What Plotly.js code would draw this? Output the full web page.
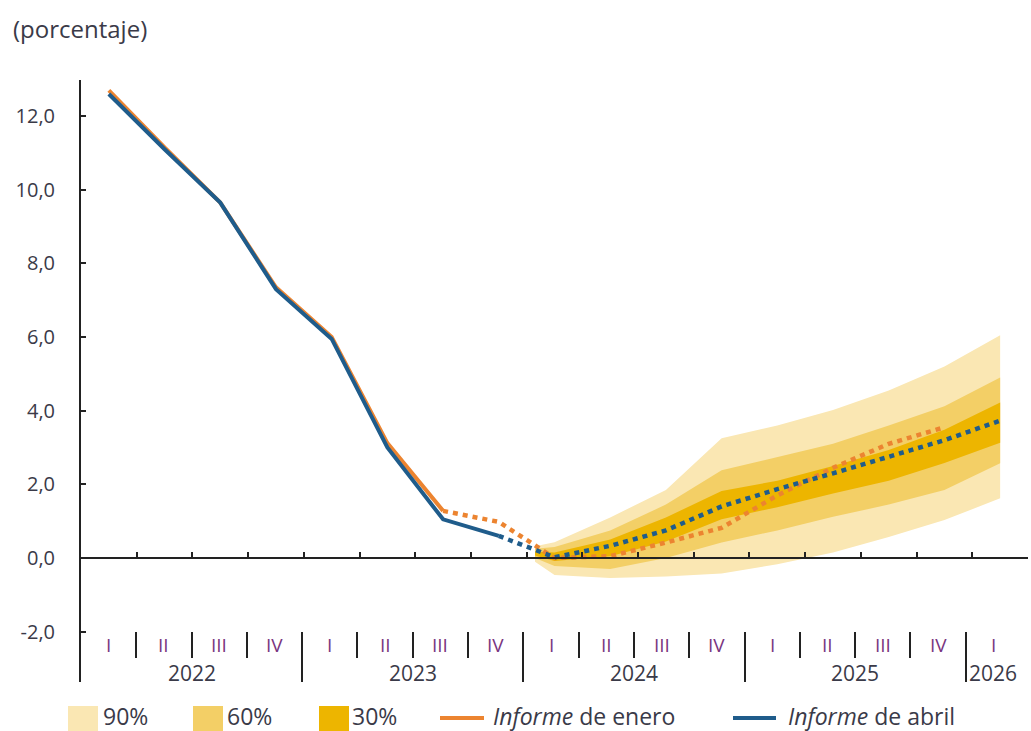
<!DOCTYPE html>
<html><head><meta charset="utf-8">
<script src="https://cdn.plot.ly/plotly-3.0.1.min.js"></script>
<style>html,body{margin:0;padding:0;background:#fff}#chart{width:1031px;height:731px}</style>
</head><body><div id="chart"></div>
<script>
// ---- data (quarterly, quarter index 0 = 2022 Q1) ----
const years = ['2022', '2023', '2024', '2025', '2026'];
const quarterNames = ['I', 'II', 'III', 'IV'];
const nQuarters = 17; // 2022 Q1 .. 2026 Q1

const aprilHistQ = [0, 1, 2, 3, 4, 5, 6, 7];
const aprilHist = [12.6, 11.1, 9.65, 7.3, 5.95, 3.0, 1.05, 0.6];
const aprilProjQ = [7, 8, 9, 10, 11, 12, 13, 14, 15, 16];
const aprilProj = [0.6, 0.02, 0.33, 0.75, 1.4, 1.87, 2.3, 2.75, 3.2, 3.73];

const eneroHistQ = [0, 1, 2, 3, 4, 5, 6];
const eneroHist = [12.7, 11.15, 9.65, 7.35, 6.0, 3.12, 1.28];
const eneroProjQ = [6, 7, 8, 9, 10, 11, 12, 13, 14, 15];
const eneroProj = [1.28, 0.98, 0.0, 0.05, 0.42, 0.82, 1.7, 2.45, 3.1, 3.55];

const fanQ = [7.65, 8, 9, 10, 11, 12, 13, 14, 15, 16];
const lo90 = [-0.1, -0.46, -0.54, -0.5, -0.42, -0.17, 0.15, 0.57, 1.03, 1.62];
const hi90 = [0.32, 0.43, 1.1, 1.85, 3.25, 3.6, 4.02, 4.55, 5.2, 6.05];
const lo60 = [0.0, -0.22, -0.3, 0.0, 0.42, 0.75, 1.12, 1.45, 1.85, 2.57];
const hi60 = [0.25, 0.3, 0.75, 1.45, 2.38, 2.73, 3.1, 3.6, 4.12, 4.9];
const lo30 = [0.07, -0.08, 0.05, 0.45, 1.05, 1.38, 1.75, 2.1, 2.58, 3.13];
const hi30 = [0.18, 0.15, 0.5, 1.1, 1.82, 2.1, 2.5, 2.93, 3.48, 4.22];

const yTickVals = [-2, 0, 2, 4, 6, 8, 10, 12];
const yTickText = ['-2,0', '0,0', '2,0', '4,0', '6,0', '8,0', '10,0', '12,0'];

const legendLabels = ['90%', '60%', '30%', '<i>Informe</i> de enero', '<i>Informe</i> de abril'];

// ---- styles ----
const C90 = '#FAE7B3', C60 = '#F3CF66', C30 = '#EDB500';
const ORANGE = '#EC8430', BLUE = '#1F5C8B';
const AX = '#222222', TXT = '#3a3a48', NUM = '#7a3580';
const FONT = 'Open Sans, sans-serif';

const qx = q => q * 3 + 1.5;          // quarter index -> month position (mid quarter)
const yRange = [-3.367, 12.98];
const PX = {l: 81, r: 1028, t: 80, b: 682};
const fx = px => (px - PX.l) / (PX.r - PX.l);
const fy = py => (PX.b - py) / (PX.b - PX.t);

const fanX = fanQ.map(qx);
function band(lo, hi, color) {
  return [
    {x: fanX, y: lo, mode: 'lines', line: {width: 0, color: color}, hoverinfo: 'skip', showlegend: false},
    {x: fanX, y: hi, mode: 'lines', line: {width: 0, color: color}, fill: 'tonexty', fillcolor: color, hoverinfo: 'skip', showlegend: false}
  ];
}
const dotted = '5px,5px';
const traces = [
  ...band(lo90, hi90, C90),
  ...band(lo60, hi60, C60),
  ...band(lo30, hi30, C30),
  {x: eneroHistQ.map(qx), y: eneroHist, mode: 'lines', line: {color: ORANGE, width: 4}, showlegend: false},
  {x: eneroProjQ.map(qx), y: eneroProj, mode: 'lines', line: {color: ORANGE, width: 4.5, dash: dotted}, showlegend: false},
  {x: aprilHistQ.map(qx), y: aprilHist, mode: 'lines', line: {color: BLUE, width: 4}, showlegend: false},
  {x: aprilProjQ.map(qx), y: aprilProj, mode: 'lines', line: {color: BLUE, width: 4.5, dash: dotted}, showlegend: false},
  // helper traces so every axis exists
  {x: [], y: [], xaxis: 'x2', yaxis: 'y', showlegend: false, hoverinfo: 'skip'},
  {x: [], y: [], xaxis: 'x3', yaxis: 'y', showlegend: false, hoverinfo: 'skip'},
  {x: [], y: [], xaxis: 'x4', yaxis: 'y', showlegend: false, hoverinfo: 'skip'}
];

const totalMonths = nQuarters * 3;
const quarterBounds = [], innerBounds = [], yearBounds = [];
for (let q = 1; q <= nQuarters; q++) quarterBounds.push(q * 3);
for (let q = 0; q <= nQuarters; q++) { if (q % 4 === 0) yearBounds.push(q * 3); else innerBounds.push(q * 3); }
if (yearBounds[yearBounds.length - 1] !== totalMonths) yearBounds.push(totalMonths);

const annotations = [
  {text: '(porcentaje)', xref: 'paper', yref: 'paper', x: fx(11), y: fy(28), xanchor: 'left', yanchor: 'middle',
   showarrow: false, font: {family: FONT, size: 24, color: TXT}}
];
for (let q = 0; q < nQuarters; q++) {
  annotations.push({text: quarterNames[q % 4], xref: 'x3', yref: 'paper', x: qx(q), y: fy(645), xanchor: 'center', yanchor: 'middle',
    showarrow: false, borderpad: 0, font: {family: FONT, size: 19, color: NUM}});
}
years.forEach((yr, i) => {
  const start = i * 12, end = Math.min((i + 1) * 12, totalMonths);
  annotations.push({text: yr, xref: 'x3', yref: 'paper', x: (start + end) / 2, y: fy(673), xanchor: 'center', yanchor: 'middle',
    showarrow: false, borderpad: 0, font: {family: FONT, size: 21, color: TXT}});
});

const legendY = fy(716);
const swatchX = [68, 193, 319], swatchC = [C90, C60, C30], labelX = [102, 226, 351, 492, 787];
const shapes = [];
swatchX.forEach((sx, i) => shapes.push({type: 'rect', xref: 'paper', yref: 'paper', x0: fx(sx), x1: fx(sx + 30), y0: fy(731), y1: fy(706), line: {width: 0}, fillcolor: swatchC[i]}));
shapes.push({type: 'line', xref: 'paper', yref: 'paper', x0: fx(440), x1: fx(484), y0: fy(718), y1: fy(718), line: {color: ORANGE, width: 4}});
shapes.push({type: 'line', xref: 'paper', yref: 'paper', x0: fx(733), x1: fx(776), y0: fy(718), y1: fy(718), line: {color: BLUE, width: 4}});
legendLabels.forEach((lab, i) => annotations.push({text: lab, xref: 'paper', yref: 'paper', x: fx(labelX[i]), y: legendY,
  xanchor: 'left', yanchor: 'middle', showarrow: false, borderpad: 0, font: {family: FONT, size: 23, color: TXT}}));

const labelDomainEnd = fx(1021);

const layout = {
  width: 1031, height: 731,
  margin: {l: PX.l, r: 1031 - PX.r, t: PX.t, b: 731 - PX.b, pad: 0},
  paper_bgcolor: '#ffffff', plot_bgcolor: 'rgba(0,0,0,0)',
  showlegend: false, separators: ',.',
  font: {family: FONT, color: TXT},
  xaxis: {range: [0, totalMonths], showline: false, showgrid: false, zeroline: false, ticks: '', showticklabels: false, fixedrange: true},
  xaxis2: {overlaying: 'x', anchor: 'free', position: -yRange[0] / (yRange[1] - yRange[0]), range: [0, totalMonths],
    tickmode: 'array', tickvals: quarterBounds, ticks: 'inside', ticklen: 5, tickwidth: 2, tickcolor: AX,
    showline: true, linecolor: AX, linewidth: 2, showgrid: false, zeroline: false, showticklabels: false},
  xaxis3: {domain: [0, labelDomainEnd], anchor: 'free', position: 0, range: [0, totalMonths],
    tickmode: 'array', tickvals: yearBounds, ticks: 'inside', ticklen: 50, tickwidth: 2, tickcolor: AX,
    showline: false, showgrid: false, zeroline: false, showticklabels: false},
  xaxis4: {overlaying: 'x3', anchor: 'free', position: fy(658), range: [0, totalMonths],
    tickmode: 'array', tickvals: innerBounds, ticks: 'inside', ticklen: 26, tickwidth: 2, tickcolor: AX,
    showline: false, showgrid: false, zeroline: false, showticklabels: false},
  yaxis: {range: yRange, tickmode: 'array', tickvals: yTickVals, ticktext: yTickText,
    ticks: 'inside', ticklen: 5, tickwidth: 2, tickcolor: AX, showline: true, linecolor: AX, linewidth: 2,
    showgrid: false, zeroline: false, tickfont: {family: FONT, size: 20, color: TXT}, ticklabelstandoff: 20, fixedrange: true},
  annotations: annotations,
  shapes: shapes
};

Plotly.newPlot('chart', traces, layout, {displayModeBar: false, staticPlot: true});
</script>
</body></html>
